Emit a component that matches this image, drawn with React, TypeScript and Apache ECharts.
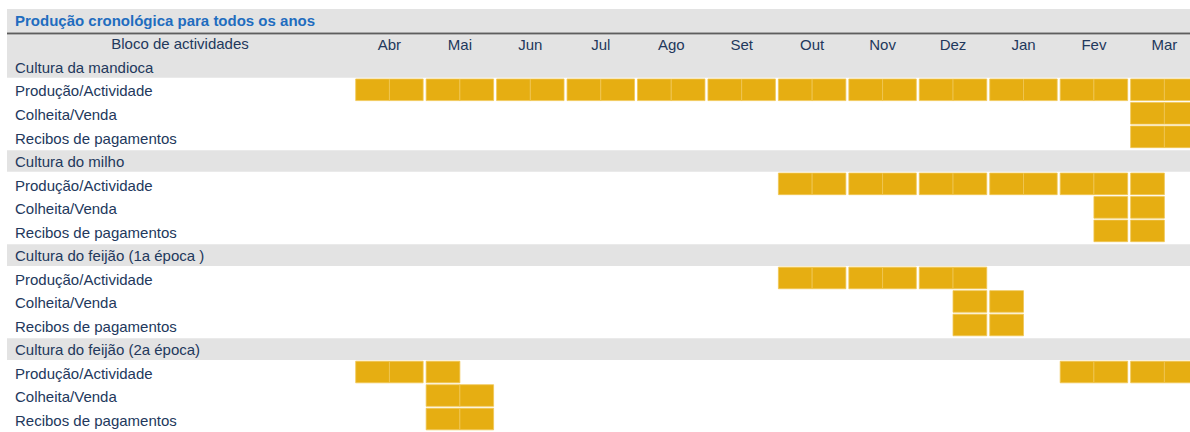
import React, { useEffect, useRef } from "react";
import * as echarts from "echarts";

const title = "Produção cronológica para todos os anos";
const headerLabel = "Bloco de actividades";
const months = ["Abr", "Mai", "Jun", "Jul", "Ago", "Set", "Out", "Nov", "Dez", "Jan", "Fev", "Mar"];

const rowLabels = [
  headerLabel,
  "Cultura da mandioca",
  "Produção/Actividade",
  "Colheita/Venda",
  "Recibos de pagamentos",
  "Cultura do milho",
  "Produção/Actividade",
  "Colheita/Venda",
  "Recibos de pagamentos",
  "Cultura do feijão (1a época )",
  "Produção/Actividade",
  "Colheita/Venda",
  "Recibos de pagamentos",
  "Cultura do feijão (2a época)",
  "Produção/Actividade",
  "Colheita/Venda",
  "Recibos de pagamentos",
];

// filled half-month slots (0 = first half of Abr ... 23 = second half of Mar)
const mandiocaProducao = [0, 1, 2, 3, 4, 5, 6, 7, 8, 9, 10, 11, 12, 13, 14, 15, 16, 17, 18, 19, 20, 21, 22, 23];
const mandiocaColheita = [22, 23];
const mandiocaRecibos = [22, 23];
const milhoProducao = [12, 13, 14, 15, 16, 17, 18, 19, 20, 21, 22];
const milhoColheita = [21, 22];
const milhoRecibos = [21, 22];
const feijao1Producao = [12, 13, 14, 15, 16, 17];
const feijao1Colheita = [17, 18];
const feijao1Recibos = [17, 18];
const feijao2Producao = [0, 1, 2, 20, 21, 22, 23];
const feijao2Colheita = [2, 3];
const feijao2Recibos = [2, 3];

const rowSlots: { [row: number]: number[] } = {
  2: mandiocaProducao,
  3: mandiocaColheita,
  4: mandiocaRecibos,
  6: milhoProducao,
  7: milhoColheita,
  8: milhoRecibos,
  10: feijao1Producao,
  11: feijao1Colheita,
  12: feijao1Recibos,
  14: feijao2Producao,
  15: feijao2Colheita,
  16: feijao2Recibos,
};

const GOLD = "#e6ae12";
const GRAY = "#e3e3e3";
const TEXT = "#22385c";
const FONT = "'Liberation Sans', Arial, Helvetica, sans-serif";
const CHART_W = 1220;

export default function App() {
  const ref = useRef<HTMLDivElement>(null);
  useEffect(() => {
    if (!ref.current) return;
    const chart = echarts.init(ref.current, null, { renderer: "svg" });

    const cells: number[][] = [];
    Object.keys(rowSlots).forEach((k) => {
      const r = Number(k);
      rowSlots[r].forEach((h) => cells.push([h, r]));
    });

    // gray bands: header (rows 0-1) and each "Cultura" row
    const bands: number[][] = [];
    rowLabels.forEach((l, i) => {
      if (i === 0) bands.push([0, 1]);
      else if (i > 1 && l.startsWith("Cultura")) bands.push([i, i]);
    });

    const option: any = {
      animation: false,
      backgroundColor: "#ffffff",
      grid: { left: 354.2, top: 32.2, width: 845.4, height: 403.75, containLabel: false },
      xAxis: [
        { type: "value", min: 0, max: 24, show: false },
        {
          type: "category",
          data: months,
          position: "top",
          gridIndex: 0,
          axisLine: { show: false },
          axisTick: { show: false },
          splitLine: { show: false },
          axisLabel: {
            inside: true,
            margin: 5,
            color: TEXT,
            fontSize: 15,
            fontFamily: FONT,
            interval: 0,
          },
          z: 10,
        },
      ],
      yAxis: {
        type: "category",
        inverse: true,
        data: rowLabels,
        axisLine: { show: false },
        axisTick: { show: false },
        splitLine: { show: false },
        axisLabel: {
          align: "left",
          margin: 339.2,
          interval: 0,
          color: TEXT,
          fontSize: 15,
          fontFamily: FONT,
          formatter: (v: string, i: number) => (i === 0 ? `{h|${v}}` : `{n|${v}}`),
          rich: {
            h: { width: 330, align: "center", color: TEXT, fontSize: 15, fontFamily: FONT },
            n: { color: TEXT, fontSize: 15, fontFamily: FONT },
          },
        },
        z: 10,
      },
      graphic: [
        { type: "rect", shape: { x: 7, y: 9, width: 1200, height: 23.5 }, style: { fill: GRAY }, z: 0 },
        { type: "rect", shape: { x: 7, y: 32.5, width: 1200, height: 2 }, style: { fill: "#5e5e5e" }, z: 1 },
        { type: "rect", shape: { x: 7, y: 34.5, width: 1200, height: 0.8 }, style: { fill: "#b0b0b0" }, z: 1 },
        {
          type: "text",
          x: 15,
          y: 20.5,
          style: {
            text: title,
            fill: "#1f6dbf",
            font: `bold 15px ${FONT}`,
            verticalAlign: "middle",
          },
          z: 5,
        },
      ],
      series: [
        {
          type: "custom",
          xAxisIndex: 0,
          yAxisIndex: 0,
          clip: false,
          z: 1,
          data: bands,
          renderItem: (params: any, api: any) => {
            const r0 = api.value(0);
            const r1 = api.value(1);
            const c0 = api.coord([0, r0])[1];
            const c1 = api.coord([0, r1])[1];
            const y0 = r0 === 0 ? 35.3 : c0 - 11.4;
            const y1 = c1 + 10.3;
            return {
              type: "rect",
              shape: { x: 7, y: y0, width: 1200, height: y1 - y0 },
              style: { fill: GRAY },
            };
          },
        },
        {
          type: "custom",
          xAxisIndex: 0,
          yAxisIndex: 0,
          clip: false,
          z: 2,
          data: cells,
          renderItem: (params: any, api: any) => {
            const h = api.value(0);
            const r = api.value(1);
            const p = api.coord([h, r]);
            const w = api.size([1, 0])[0];
            let x0 = p[0];
            let x1 = p[0] + w;
            if (h % 2 === 0) x0 += 1.5;
            else x1 -= 1.5;
            const cy = p[1] - 1.2;
            return {
              type: "rect",
              shape: { x: x0, y: cy - 10.8, width: x1 - x0, height: 21.6 },
              style: { fill: GOLD, stroke: "#f0c655", lineWidth: 0.8 },
            };
          },
        },
      ],
    };
    chart.setOption(option);
    return () => chart.dispose();
  }, []);

  return (
    <div
      style={{
        position: "fixed",
        left: 0,
        top: 0,
        width: 1190,
        height: 432,
        overflow: "hidden",
        background: "#fff",
      }}
    >
      <div ref={ref} style={{ width: CHART_W, height: 432 }} />
    </div>
  );
}
